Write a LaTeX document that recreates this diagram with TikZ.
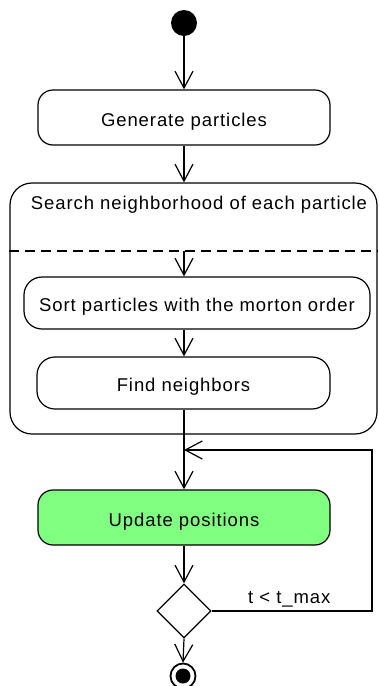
\documentclass[tikz,border=0pt]{standalone}
\usepackage{fontspec}
\setmainfont[LetterSpace=5]{Liberation Sans}
\usetikzlibrary{arrows.meta,shapes.geometric}
\begin{document}
\begin{tikzpicture}[x=1pt,y=-1pt,
  every node/.style={font=\fontsize{18.5}{22}\selectfont},
  label text/.style={text height=17pt,text depth=0pt},
  action/.style={draw,line width=1.2pt,rounded corners=15pt,inner sep=0pt,label text},
  flow/.style={line width=1.2pt,-{Straight Barb[length=17pt,width=18pt,line width=1.2pt]}}]
\useasboundingbox (0,0) rectangle (378,686);

% start and end markers
\node (start) [circle,fill,inner sep=0pt,minimum size=26pt] at (184,23) {};
\node (stop) [circle,draw,line width=1.8pt,inner sep=0pt,minimum size=25pt,
  path picture={\fill (path picture bounding box.center) circle (7.5pt);}] at (183,676) {};

% first action
\node (gen) [action,minimum width=292pt,minimum height=55pt] at (184,117.5) {Generate particles};

% composite activity
\node (search) [draw,line width=1.2pt,rounded corners=22pt,minimum width=367pt,minimum height=251pt] at (193.5,308.5) {};
\node (title) [label text] at (199,201) {Search neighborhood of each particle};
\coordinate (dl) at (search.west |- 0,251);
\coordinate (dr) at (search.east |- 0,251);
\draw[line width=1.2pt,dash pattern=on 10pt off 6pt] (dl) -- (dr);
\coordinate (din) at (184,251);

\node (sort) [action,rounded corners=18pt,minimum width=346pt,minimum height=52pt] at (197,303) {Sort particles with the morton order};
\node (find) [action,rounded corners=18pt,minimum width=293pt,minimum height=52pt] at (183.5,383) {Find neighbors};

% main loop
\node (upd) [action,fill={rgb,255:red,128;green,255;blue,128},minimum width=292pt,minimum height=55pt] at (184,517.5) {Update positions};
\node (dec) [diamond,draw,line width=1.2pt,inner sep=0pt,minimum width=54pt,minimum height=54pt] at (184,611) {};
\coordinate (join) at (184,450);
\coordinate (c1) at (372,611);
\coordinate (c2) at (372,450);

% connectors
\draw[flow] (start) -- (gen);
\draw[flow] (gen.south) -- (gen.south |- search.north);
\draw[flow] (din) -- (din |- sort.north);
\draw[flow] (sort.south -| din) -- (find.north -| din);
\draw[flow] (find.south -| din) -- (upd.north -| din);
\draw[flow] (upd.south -| dec) -- (dec.north);
\draw[flow] (dec.south) -- (stop.north);
\draw[flow] (dec.east) -- (c1) -- (c2) -- (join);
\node (guard) [anchor=south west,inner sep=0pt] at (248,607) {t < t\_max};
\end{tikzpicture}
\end{document}
